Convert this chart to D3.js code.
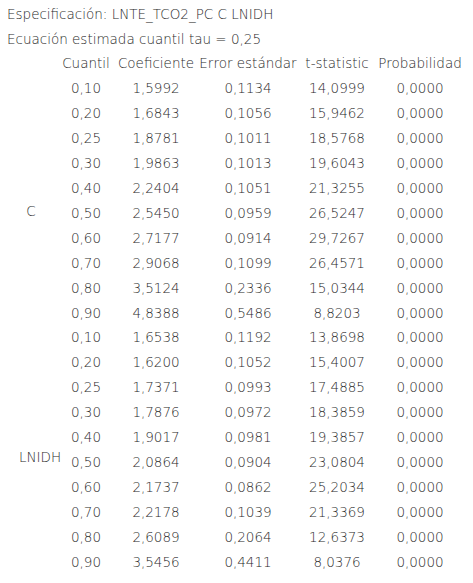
<!DOCTYPE html>
<html><head><meta charset="utf-8">
<script src="https://cdn.jsdelivr.net/npm/d3@7/dist/d3.min.js"></script>
<style>body{margin:0;background:#fff}text{font-family:"DejaVu Sans",sans-serif;font-size:13.5px;fill:#2a2a2a;font-weight:300}</style>
</head><body>
<script>
const titles = ["Especificación: LNTE_TCO2_PC C LNIDH", "Ecuación estimada cuantil tau = 0,25"];
const columns = ["Cuantil", "Coeficiente", "Error estándar", "t-statistic", "Probabilidad"];
const groups = ["C", "LNIDH"];
const quantiles = ["0,10","0,20","0,25","0,30","0,40","0,50","0,60","0,70","0,80","0,90"];
const coefC = ["1,5992","1,6843","1,8781","1,9863","2,2404","2,5450","2,7177","2,9068","3,5124","4,8388"];
const seC = ["0,1134","0,1056","0,1011","0,1013","0,1051","0,0959","0,0914","0,1099","0,2336","0,5486"];
const tC = ["14,0999","15,9462","18,5768","19,6043","21,3255","26,5247","29,7267","26,4571","15,0344","8,8203"];
const coefL = ["1,6538","1,6200","1,7371","1,7876","1,9017","2,0864","2,1737","2,2178","2,6089","3,5456"];
const seL = ["0,1192","0,1052","0,0993","0,0972","0,0981","0,0904","0,0862","0,1039","0,2064","0,4411"];
const tL = ["13,8698","15,4007","17,4885","18,3859","19,3857","23,0804","25,2034","21,3369","12,6373","8,0376"];
const prob = "0,0000";

const rows = [];
quantiles.forEach((q, i) => rows.push({g: "C", cells: [q, coefC[i], seC[i], tC[i], prob]}));
quantiles.forEach((q, i) => rows.push({g: "LNIDH", cells: [q, coefL[i], seL[i], tL[i], prob]}));

const svg = d3.select("body").append("svg").attr("width", 473).attr("height", 583);

const x = d3.scaleOrdinal().domain(columns).range([86, 156, 248, 337, 420]);
const y = d3.scaleLinear().domain([0, rows.length - 1]).range([93, 567]);

svg.selectAll("text.title").data(titles).join("text")
  .attr("x", 7).attr("y", (d, i) => 19 + i * 25).text(d => d);

svg.selectAll("text.head").data(columns).join("text")
  .attr("x", d => x(d)).attr("y", 68).attr("text-anchor", "middle").text(d => d);

const row = svg.selectAll("g.row").data(rows).join("g")
  .attr("transform", (d, i) => `translate(0,${y(i)})`);
row.selectAll("text").data(d => d.cells).join("text")
  .attr("x", (d, j) => x(columns[j])).attr("text-anchor", "middle").text(d => d);

svg.selectAll("text.grp").data(groups).join("text")
  .attr("x", (d, i) => i === 0 ? 31 : 40).attr("text-anchor", "middle")
  .attr("y", (d, i) => (y(i * 10) + y(i * 10 + 9)) / 2 + (i === 0 ? 11 : 7))
  .text(d => d);
</script>
</body></html>
